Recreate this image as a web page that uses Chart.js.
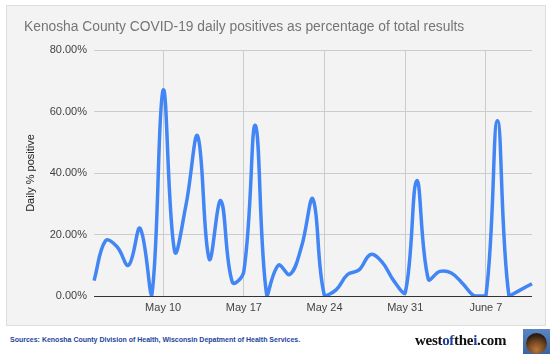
<!DOCTYPE html>
<html lang="en">
<head>
    <meta charset="UTF-8">
    <title>Kenosha County COVID-19 daily positives</title>
    <script src="https://cdn.jsdelivr.net/npm/chart.js"></script>
    <style>
        body {
            margin: 0;
            width: 550px;
            height: 354px;
            background: #ffffff;
            position: relative;
            overflow: hidden;
            font-family: 'Liberation Sans', Arial, sans-serif;
        }

        .card {
            position: absolute;
            left: 6px;
            top: 5px;
            width: 540px;
            height: 321px;
            background: #f3f3f3;
            border: 1px solid #dcdcdc;
            box-sizing: border-box;
        }

        .title {
            position: absolute;
            left: 24px;
            top: 19px;
            font-size: 13.8px;
            color: #757575;
            white-space: nowrap;
        }

        #chartBox {
            position: absolute;
            left: 0;
            top: 0;
            width: 550px;
            height: 330px;
        }

        .sources {
            position: absolute;
            left: 10px;
            top: 336px;
            font-size: 7px;
            font-weight: bold;
            color: #24459c;
            white-space: nowrap;
        }

        .brand {
            position: absolute;
            left: 415px;
            top: 332px;
            font-family: 'Liberation Serif', 'DejaVu Serif', serif;
            font-weight: bold;
            font-size: 15px;
            color: #111;
            letter-spacing: -0.3px;
        }

        .brand span { color: #1c3f8f; }

        .logo {
            position: absolute;
            left: 523px;
            top: 329px;
            width: 27px;
            height: 25px;
            background: linear-gradient(#5b86c0, #3c64a0);
        }

        .logo::after {
            content: '';
            position: absolute;
            left: 3px;
            top: 4px;
            width: 21px;
            height: 21px;
            border-radius: 50%;
            background: radial-gradient(circle at 50% 80%, #b7773d 0%, #7a4a22 40%, #2a1d14 75%);
        }
    </style>
</head>
<body>
    <div class="card"></div>
    <div id="chartBox"><canvas id="posChart" width="550" height="330"></canvas></div>
    <div class="title">Kenosha County COVID-19 daily positives as percentage of total results</div>

    <div class="sources">Sources: Kenosha County Division of Health, Wisconsin Depatment of Health Services.</div>
    <div class="brand">west<span>of</span>the<span>i</span>.com</div>
    <div class="logo"></div>

    <script>
        // dias (4 de maio a 11 de junho)
        const days = [
            'May 4', 'May 5', 'May 6', 'May 7', 'May 8', 'May 9', 'May 10',
            'May 11', 'May 12', 'May 13', 'May 14', 'May 15', 'May 16', 'May 17',
            'May 18', 'May 19', 'May 20', 'May 21', 'May 22', 'May 23', 'May 24',
            'May 25', 'May 26', 'May 27', 'May 28', 'May 29', 'May 30', 'May 31',
            'June 1', 'June 2', 'June 3', 'June 4', 'June 5', 'June 6', 'June 7',
            'June 8', 'June 9', 'June 10', 'June 11'
        ];

        // % positivos por dia
        const dailyPositive = [
            5, 18, 16, 10, 22, 0, 67,
            14.5, 30, 52, 12, 31, 4.5, 8,
            55.5, 0, 10, 7, 16, 31.5, 0,
            2, 7, 8.5, 13.5, 11, 5, 1,
            37.5, 5.5, 8, 7.5, 4, 0, 0,
            57, 0, 2, 4
        ];

        const weekLabels = ['May 10', 'May 17', 'May 24', 'May 31', 'June 7'];
        const yTicks = [0, 20, 40, 60, 80];

        const ctx = document.getElementById('posChart').getContext('2d');

        new Chart(ctx, {
            type: 'line',
            data: {
                labels: days,
                datasets: [{
                    label: 'Daily % positive',
                    data: dailyPositive,
                    borderColor: '#4285f4',
                    borderWidth: 3.5,
                    pointRadius: 0,
                    tension: 0.4,
                    fill: false
                }]
            },
            options: {
                responsive: false,
                animation: false,
                layout: { padding: { left: 0, right: 18, top: 50, bottom: 0 } },
                plugins: {
                    legend: { display: false },
                    tooltip: { enabled: false }
                },
                scales: {
                    x: {
                        offset: false,
                        afterFit: function(scale) { scale.height = 34; },
                        grid: {
                            drawTicks: false,
                            color: function(c) {
                                return weekLabels.includes(days[c.index]) ? '#cccccc' : 'rgba(0,0,0,0)';
                            }
                        },
                        border: { display: false },
                        ticks: {
                            autoSkip: false,
                            maxRotation: 0,
                            padding: 5,
                            color: '#444444',
                            font: { family: "'Liberation Sans', Arial", size: 11 },
                            callback: function(value, index) {
                                return weekLabels.includes(days[index]) ? days[index] : '';
                            }
                        }
                    },
                    y: {
                        min: 0,
                        max: 80,
                        afterFit: function(scale) { scale.width = 94; },
                        afterBuildTicks: function(scale) {
                            scale.ticks = yTicks.map(v => ({ value: v }));
                        },
                        grid: {
                            drawTicks: false,
                            color: function(c) {
                                return c.tick.value === 0 ? '#333333' : '#cccccc';
                            }
                        },
                        border: { display: false },
                        ticks: {
                            padding: 7,
                            color: '#444444',
                            font: { family: "'Liberation Sans', Arial", size: 11 },
                            callback: function(value) {
                                return value.toFixed(2) + '%';
                            }
                        },
                        title: {
                            display: true,
                            text: 'Daily % positive',
                            color: '#222222',
                            font: { family: "'Liberation Sans', Arial", size: 11 },
                            padding: { top: 24, bottom: 0 }
                        }
                    }
                }
            }
        });
    </script>
</body>
</html>
